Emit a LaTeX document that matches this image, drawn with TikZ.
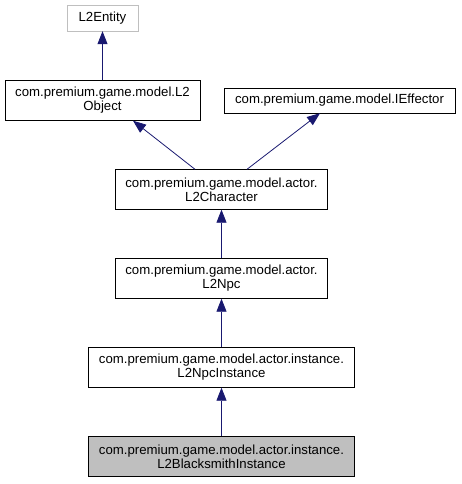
\documentclass[tikz,border=0pt]{standalone}
\usepackage{fontspec}
\setmainfont{Liberation Sans}
\usepackage{tikz}
\usetikzlibrary{arrows.meta}
\definecolor{edgeblue}{HTML}{191970}
\definecolor{lightgrey}{HTML}{BFBFBF}
\tikzstyle{cls} = [rectangle, draw=black, fill=white, align=center, inner sep=0pt, minimum height=40pt, font=\fontsize{13.2}{14}\selectfont]
\tikzstyle{ext} = [cls, draw=lightgrey, minimum height=26pt]
\tikzstyle{self} = [cls, fill=lightgrey]
\tikzstyle{arrow} = [edgeblue, line width=0.8pt, ->, >={Triangle[length=13pt,width=10pt]}]

\begin{document}
\begin{tikzpicture}[node distance=89pt]
\useasboundingbox (0,0) rectangle (461pt,-484pt);
\node (entity) [ext, minimum width=71pt] at (102.5pt,-18pt) {L2Entity};
\node (obj) [cls, below of=entity, yshift=6.5pt, minimum width=195pt] {com.premium.game.model.L2\\Object};
\node (effector) [cls, below of=entity, yshift=6.5pt, xshift=237pt, minimum width=231pt, minimum height=25pt] {com.premium.game.model.IEffector};
\node (character) [cls, below of=obj, xshift=119pt, minimum width=212pt] {com.premium.game.model.actor.\\L2Character};
\node (npc) [cls, below of=character, minimum width=212pt] {com.premium.game.model.actor.\\L2Npc};
\node (npcinst) [cls, below of=npc, minimum width=266pt] {com.premium.game.model.actor.instance.\\L2NpcInstance};
\node (smith) [self, below of=npcinst, minimum width=266pt] {com.premium.game.model.actor.instance.\\L2BlacksmithInstance};

\draw [arrow] (obj) -- (entity);
\draw [arrow] ([xshift=-26.5pt]character.north) -- ([xshift=30.5pt]obj.south);
\draw [arrow] ([xshift=25.5pt]character.north) -- ([xshift=-19.5pt]effector.south);
\draw [arrow] (npc) -- (character);
\draw [arrow] (npcinst) -- (npc);
\draw [arrow] (smith) -- (npcinst);

\end{tikzpicture}
\end{document}
